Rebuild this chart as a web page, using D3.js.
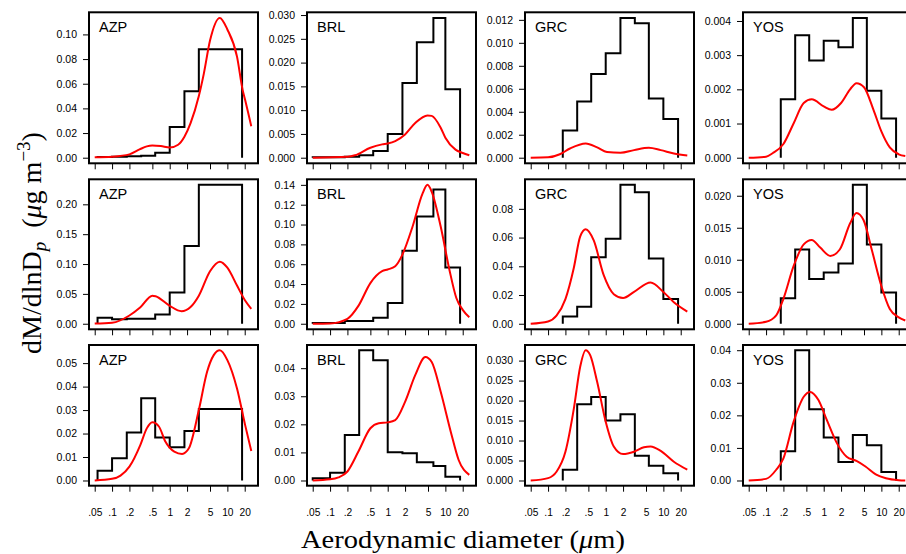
<!DOCTYPE html>
<html>
<head>
<meta charset="utf-8">
<script src="https://cdn.jsdelivr.net/npm/d3@7"></script>
<style>
  html, body { margin: 0; padding: 0; background: #fff; }
  svg { display: block; }
  .tick text { font-family: "Liberation Sans", Arial, sans-serif; fill: #000; }
</style>
</head>
<body>
<script>
// Site names (columns)
const sites = ["AZP", "BRL", "GRC", "YOS"];

// Impactor stage cut points (µm) bounding the histogram bins
const binEdges = [0.056, 0.1, 0.18, 0.32, 0.56, 1.0, 1.8, 3.2, 5.6, 10, 18];
const binEdgesBRL = [0.05, 0.1, 0.18, 0.32, 0.56, 1.0, 1.8, 3.2, 6.2, 10, 18];
const siteEdges = [binEdges, binEdgesBRL, binEdges, binEdges];

// x-axis ticks
const xTickValues = [0.05, 0.1, 0.2, 0.5, 1, 2, 5, 10, 20];
const xTickLabels = [".05", ".1", ".2", ".5", "1", "2", "5", "10", "20"];

// Measured dM/dlnDp per bin (null = no stage), one array per site, per row
const histTop = [
  [0.0005, 0.0008, 0.0012, 0.0015, 0.004, 0.025, 0.054, 0.088, 0.088, 0.088],
  [0.0001, 0.0001, 0.0002, 0.0005, 0.0014, 0.005, 0.0157, 0.0243, 0.0294, 0.0144],
  [null, null, 0.00236, 0.0049, 0.00728, 0.0091, 0.01217, 0.0117, 0.00515, 0.00337],
  [null, null, 0.00171, 0.00358, 0.00284, 0.00342, 0.00323, 0.00409, 0.00196, 0.00115]
];
const histMid = [
  [0.0099, 0.0075, 0.0085, 0.0085, 0.0155, 0.0525, 0.13, 0.2326, 0.2326, 0.2326],
  [0.0007, 0.0007, 0.0027, 0.0027, 0.006, 0.0209, 0.0737, 0.108, 0.1354, 0.0567],
  [null, null, 0.005, 0.0119, 0.0463, 0.0591, 0.0967, 0.0915, 0.0454, 0.0172],
  [null, null, 0.004, 0.0116, 0.007, 0.008, 0.0094, 0.0217, 0.0124, 0.0049]
];
const histBottom = [
  [0.0041, 0.0095, 0.0204, 0.035, 0.0183, 0.0142, 0.0211, 0.0305, 0.0305, 0.0305],
  [0.0008, 0.0028, 0.0162, 0.0464, 0.0428, 0.0101, 0.0097, 0.0065, 0.0052, 0.0013],
  [null, null, 0.0027, 0.0191, 0.0209, 0.015, 0.0166, 0.0062, 0.0037, 0.0018],
  [null, null, 0.009, 0.040, 0.0219, 0.0132, 0.0057, 0.014, 0.0108, 0.0026]
];

// Fitted size distributions, [diameter µm, dM/dlnDp]
const fitTop = [
  [[0.05,0.0003],[0.1,0.0008],[0.2,0.0027],[0.3,0.0067],[0.4,0.0092],[0.5,0.0099],[0.7,0.0094],[1.0,0.0082],[1.4,0.0105],[1.8,0.017],[2.3,0.028],[3.2,0.05],[3.9,0.068],[5.0,0.095],[7.4,0.1134],[10,0.104],[14.7,0.082],[18.4,0.055],[20.3,0.047],[26,0.0255]],
  [[0.05,0],[0.2,0.0002],[0.27,0.0005],[0.5,0.0021],[0.8,0.0028],[1.0,0.003],[1.35,0.0035],[2.0,0.0049],[3.0,0.0073],[4.9,0.0089],[5.8,0.0088],[8.3,0.0063],[10,0.0042],[15,0.0017],[20,0.001],[26,0.0005]],
  [[0.05,0],[0.1,0.00003],[0.16,0.0003],[0.24,0.0008],[0.45,0.00124],[0.71,0.0009],[1.05,0.0005],[1.8,0.00043],[3.1,0.00066],[5.6,0.00086],[9.0,0.00066],[15.2,0.00037],[26,0.0002]],
  [[0.05,0],[0.1,0.00003],[0.13,0.00013],[0.2,0.0004],[0.3,0.001],[0.45,0.0016],[0.62,0.00171],[1.0,0.0015],[1.38,0.0014],[2.0,0.0016],[2.87,0.002],[3.7,0.00218],[5.0,0.00206],[7.3,0.0014],[10,0.00077],[14,0.0003],[20,0.0001],[26,0.00005]]
];
const fitMid = [
  [[0.05,0.0003],[0.1,0.0017],[0.2,0.0138],[0.31,0.0276],[0.5,0.047],[0.57,0.046],[1.0,0.030],[1.6,0.021],[2.3,0.028],[3.2,0.047],[5.0,0.088],[7.4,0.104],[10,0.094],[14.7,0.064],[20.3,0.039],[26,0.025]],
  [[0.05,0],[0.1,0.0003],[0.2,0.005],[0.31,0.018],[0.5,0.041],[0.8,0.053],[1.0,0.0547],[1.35,0.058],[1.8,0.0697],[2.7,0.098],[4.0,0.131],[4.9,0.140],[5.8,0.133],[8.3,0.098],[11.7,0.055],[15.5,0.026],[20,0.014],[26,0.0066]],
  [[0.05,0],[0.1,0.0016],[0.14,0.0057],[0.2,0.0172],[0.28,0.039],[0.36,0.0607],[0.45,0.0658],[0.62,0.058],[0.92,0.034],[1.38,0.0206],[2.0,0.0179],[3.1,0.0222],[6.0,0.0287],[10.2,0.0218],[15.2,0.015],[26,0.0085]],
  [[0.05,0],[0.1,0.0003],[0.15,0.0013],[0.2,0.0039],[0.3,0.009],[0.45,0.0124],[0.62,0.0131],[0.87,0.0119],[1.3,0.0106],[1.9,0.0116],[2.87,0.0157],[3.7,0.0173],[4.9,0.0162],[6.8,0.0116],[10,0.0059],[14,0.0023],[20,0.001],[26,0.0005]]
];
const fitBottom = [
  [[0.05,0],[0.1,0.0007],[0.14,0.0021],[0.2,0.0059],[0.31,0.0152],[0.4,0.0222],[0.5,0.0248],[0.65,0.023],[0.84,0.0166],[1.2,0.0123],[1.64,0.0113],[2.15,0.0137],[3.2,0.030],[4.45,0.0463],[5.8,0.0534],[7.4,0.0555],[10,0.0513],[14.7,0.0392],[20.3,0.0237],[26,0.0126]],
  [[0.05,0],[0.1,0.0004],[0.14,0.0011],[0.2,0.0032],[0.31,0.0103],[0.5,0.0186],[0.7,0.0204],[1.0,0.0207],[1.35,0.0215],[2.0,0.028],[3.0,0.0375],[4.5,0.044],[5.8,0.0422],[8.3,0.0316],[12.4,0.0174],[17,0.0073],[26,0.002]],
  [[0.05,0],[0.1,0.0006],[0.14,0.0022],[0.2,0.0072],[0.28,0.018],[0.36,0.0284],[0.45,0.0326],[0.54,0.0313],[0.71,0.0247],[1.0,0.0147],[1.38,0.0085],[2.0,0.0066],[3.1,0.0072],[4.6,0.0083],[6.0,0.0085],[9.0,0.0074],[15.2,0.0047],[26,0.0027]],
  [[0.05,0],[0.1,0.0005],[0.15,0.0033],[0.2,0.0068],[0.3,0.018],[0.45,0.0257],[0.58,0.0272],[0.81,0.0247],[1.13,0.0186],[1.7,0.0114],[2.5,0.0073],[3.7,0.006],[5.3,0.0043],[8.0,0.0019],[12,0.0007],[20,0.0001],[26,0]]
];

// y-axis tick labels per panel
const yLabelsTop = [
  ["0.00", "0.02", "0.04", "0.06", "0.08", "0.10"],
  ["0.000", "0.005", "0.010", "0.015", "0.020", "0.025", "0.030"],
  ["0.000", "0.002", "0.004", "0.006", "0.008", "0.010", "0.012"],
  ["0.000", "0.001", "0.002", "0.003", "0.004"]
];
const yLabelsMid = [
  ["0.00", "0.05", "0.10", "0.15", "0.20"],
  ["0.00", "0.02", "0.04", "0.06", "0.08", "0.10", "0.12", "0.14"],
  ["0.00", "0.02", "0.04", "0.06", "0.08"],
  ["0.000", "0.005", "0.010", "0.015", "0.020"]
];
const yLabelsBottom = [
  ["0.00", "0.01", "0.02", "0.03", "0.04", "0.05"],
  ["0.00", "0.01", "0.02", "0.03", "0.04"],
  ["0.000", "0.005", "0.010", "0.015", "0.020", "0.025", "0.030"],
  ["0.00", "0.01", "0.02", "0.03", "0.04"]
];

// ---- layout ----
const W = 906, H = 554;
const colLeft = [89, 307, 525, 743];
const boxW = 169;
const rowTop = [12.3, 179.3, 345];
const rowBottom = [163.3, 329.3, 485.7];

const hists = [histTop, histMid, histBottom];
const fits = [fitTop, fitMid, fitBottom];
const yLabels = [yLabelsTop, yLabelsMid, yLabelsBottom];

const svg = d3.select("body").append("svg")
  .attr("width", W).attr("height", H)
  .attr("viewBox", `0 0 ${W} ${H}`);

for (let r = 0; r < 3; r++) {
  for (let c = 0; c < 4; c++) {
    const left = colLeft[c], top = rowTop[r], bottom = rowBottom[r];
    const hist = hists[r][c], fit = fits[r][c], labels = yLabels[r][c];
    const edges = siteEdges[c];

    const x = d3.scaleLog().domain([0.0398, 34]).range([left, left + boxW]);
    const maxVal = Math.max(d3.max(hist), d3.max(fit, d => d[1]));
    const y = d3.scaleLinear().domain([-0.04 * maxVal, 1.04 * maxVal]).range([bottom, top]);

    const g = svg.append("g");

    // step outline of the binned measurements
    const pts = [];
    let started = false;
    hist.forEach((v, i) => {
      if (v == null) return;
      if (!started) { pts.push([edges[i], 0]); started = true; }
      pts.push([edges[i], v]);
      pts.push([edges[i + 1], v]);
    });
    pts.push([edges[edges.length - 1], 0]);
    g.append("path")
      .attr("d", d3.line().x(d => x(d[0])).y(d => y(d[1]))(pts))
      .attr("fill", "none").attr("stroke", "#000").attr("stroke-width", 2)
      .attr("stroke-linejoin", "miter");

    // fitted distribution
    g.append("path")
      .attr("d", d3.line().x(d => x(d[0])).y(d => y(d[1])).curve(d3.curveMonotoneX)(fit))
      .attr("fill", "none").attr("stroke", "#ff0000").attr("stroke-width", 2);

    // y axis
    const yAxis = d3.axisLeft(y)
      .tickValues(labels.map(Number))
      .tickFormat((d, i) => labels[i])
      .tickSize(6).tickPadding(6);
    const ya = g.append("g").attr("transform", `translate(${left},0)`).call(yAxis);
    ya.select(".domain").remove();
    ya.selectAll(".tick line").attr("stroke", "#000").attr("stroke-width", 1);
    ya.selectAll(".tick text").attr("font-size", 10.5);

    // x axis
    const xAxis = d3.axisBottom(x)
      .tickValues(xTickValues)
      .tickFormat((d, i) => r === 2 ? xTickLabels[i] : "")
      .tickSize(6).tickPadding(17);
    const xa = g.append("g").attr("transform", `translate(0,${bottom})`).call(xAxis);
    xa.select(".domain").remove();
    xa.selectAll(".tick line").attr("stroke", "#000").attr("stroke-width", 1);
    xa.selectAll(".tick text").attr("font-size", 10.2);

    // frame
    g.append("rect")
      .attr("x", left).attr("y", top)
      .attr("width", boxW).attr("height", bottom - top)
      .attr("fill", "none").attr("stroke", "#000").attr("stroke-width", 2);

    // site label
    g.append("text")
      .attr("x", left + 10).attr("y", top + 20)
      .attr("font-family", "Liberation Sans, Arial, sans-serif")
      .attr("font-size", 14.5)
      .text(sites[c]);
  }
}

// axis titles
const serif = "'Liberation Serif', 'DejaVu Serif', serif";
const xt = svg.append("text")
  .attr("x", 463).attr("y", 548)
  .attr("text-anchor", "middle")
  .attr("textLength", 324).attr("lengthAdjust", "spacingAndGlyphs")
  .attr("font-family", serif).attr("font-size", 26);
xt.append("tspan").text("Aerodynamic diameter (");
xt.append("tspan").attr("font-style", "italic").text("μ");
xt.append("tspan").text("m)");

const yt = svg.append("text")
  .attr("transform", "translate(41,243) rotate(-90)")
  .attr("text-anchor", "middle")
  .attr("font-family", serif).attr("font-size", 28);
yt.append("tspan").text("dM/dlnD");
yt.append("tspan").attr("font-style", "italic").attr("font-size", 19).attr("dy", 5).text("p");
yt.append("tspan").attr("dy", -5).text("\u2002(");
yt.append("tspan").attr("font-style", "italic").text("μ");
yt.append("tspan").text("g m");
yt.append("tspan").attr("font-size", 19).attr("dy", -11).text("−3");
yt.append("tspan").attr("dy", 11).text(")");
</script>
</body>
</html>
